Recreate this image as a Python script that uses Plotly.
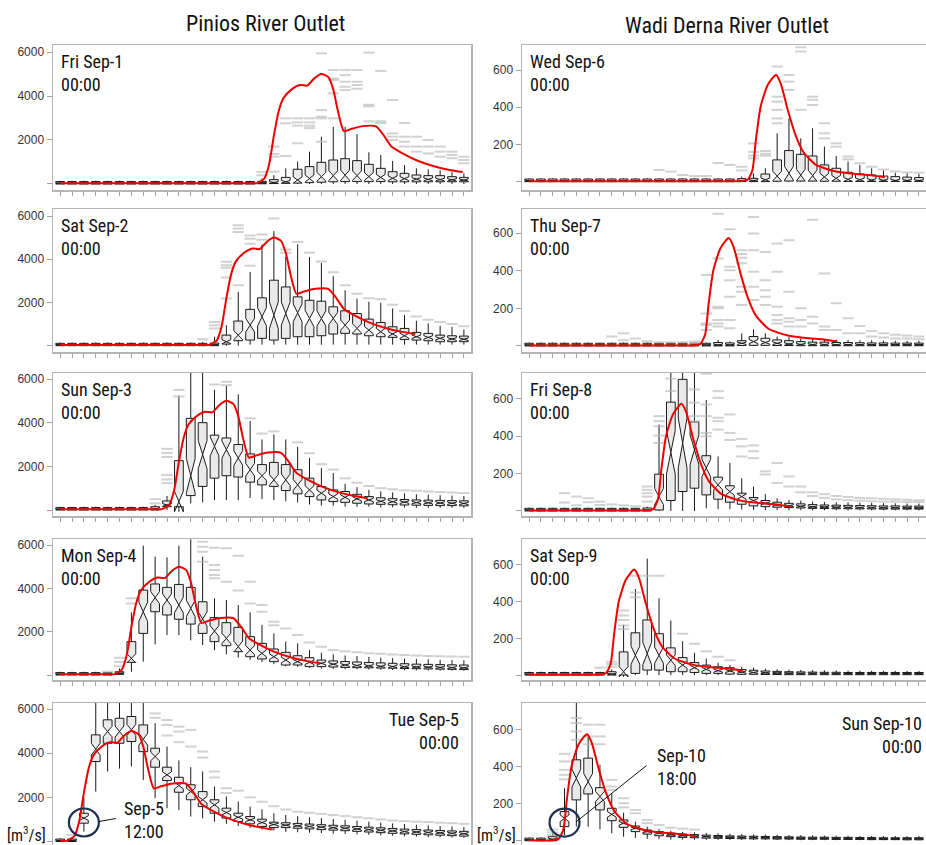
import math
import plotly.graph_objects as go

W, H = 926, 845
NARROW = "Liberation Sans Narrow, Arial Narrow, Roboto Condensed, sans-serif"
SANS = "Liberation Sans, Arial, sans-serif"
N_MEMBERS = 51

# ---------------- data ----------------
pinios_labels = ["Fri Sep-1", "Sat Sep-2", "Sun Sep-3", "Mon Sep-4", "Tue Sep-5"]
wadi_labels = ["Wed Sep-6", "Thu Sep-7", "Fri Sep-8", "Sat Sep-9", "Sun Sep-10"]

# observed hydrographs, time in 6-hourly steps from first panel start
pinios_obs_t = [0, 4, 8, 12, 16, 16.6, 17.2, 17.6, 18.0, 18.4, 18.8, 19.5, 20.2, 20.8, 21.4, 22.0,
                22.6, 23.0, 23.4, 23.9, 24.5, 25.5, 26.6, 27.2, 27.9, 28.8, 30.0, 31.4, 32.8, 33.9]
pinios_obs_q = [30, 30, 30, 30, 30, 40, 250, 900, 2200, 3300, 3900, 4300, 4500, 4470, 4800, 5000,
                4850, 4300, 3300, 2400, 2500, 2630, 2620, 2250, 1700, 1400, 1080, 820, 640, 540]
wadi_obs_t = [0, 4, 8, 12, 16, 18.0, 18.5, 18.9, 19.2, 19.6, 20.2, 20.9, 21.3, 21.9, 22.5, 23.2,
              24.3, 26.0, 27.7, 28.8, 30.1]
wadi_obs_q = [2, 2, 2, 2, 2, 3, 10, 60, 224, 403, 520, 574, 529, 385, 260, 161,
              90, 54, 41, 36, 24]

# Pinios ensemble box statistics (35 lead steps)
P1_lo = [0,0,0,0,0,0,0,0,0,0,0,0,0,0,0,0,0,0,0,0,0,0,0,0,0,0,0,0,0,0,0,0,0,0,0]
P1_q1 = [0,0,0,0,0,0,0,0,0,0,0,0,0,0,0,0,0,10,20,30,40,60,80,100,110,110,110,110,100,100,100,100,100,100,100]
P1_med = [30,30,30,30,30,30,30,30,30,30,30,30,30,30,30,30,30,40,70,100,180,250,330,380,400,380,340,300,260,240,220,210,200,190,180]
P1_q3 = [110,110,110,110,110,110,110,110,110,110,110,110,110,110,110,110,110,120,200,300,670,790,985,1090,1150,1060,895,712,560,485,410,380,380,333,300]
P1_hi = [150,150,150,150,150,150,150,150,150,150,150,150,150,150,150,150,150,250,400,710,1015,1470,2150,2600,2600,2270,1440,1320,1045,860,712,660,620,560,485]
P1_out = {17: [400, 550], 18: [1700, 1360, 1240, 560], 19: [2985, 2760, 1270], 20: [2985, 2800, 2650, 1850],
          21: [2985, 2800, 2650, 2540], 22: [5940, 3360, 3060, 2985, 1920], 23: [5180, 4800, 4730, 4120, 2985],
          24: [5180, 4950, 4650, 4420, 4270], 25: [5180, 4650, 4500, 4330], 26: [5970, 3600, 3530, 2850],
          27: [5140, 2850, 2770], 28: [3820, 2300, 2150, 2000], 29: [2770, 2150, 1920, 1700], 30: [2150, 1700, 1470],
          31: [2000, 1700, 1390], 32: [1700, 1470, 1240], 33: [1470, 1320, 1170], 34: [1240, 1090, 940]}

P2_lo = [0,0,0,0,0,0,0,0,0,0,0,0,0,0,0,0,50,50,50,50,50,50,50,50,50,50,50,50,50,50,50,50,50,50,50]
P2_q1 = [0,0,0,0,0,0,0,0,0,0,0,0,0,0,75,230,260,340,260,340,415,415,460,540,570,540,460,415,385,290,260,230,185,185,185]
P2_med = [30,30,30,30,30,30,30,30,30,30,30,30,30,40,185,490,950,1340,1415,1490,1520,1260,1260,1260,950,800,720,650,540,460,415,385,340,310,300]
P2_q3 = [110,110,110,110,110,110,110,110,110,110,110,110,110,120,490,1140,1680,2215,3030,2720,2260,2100,2060,1800,1615,1490,1230,1075,875,800,615,570,490,460,445]
P2_hi = [150,150,150,150,150,150,150,150,150,150,150,150,180,415,950,2490,3415,4675,5300,4100,4690,4100,3830,3215,2570,2180,2030,1985,1720,1415,1150,1030,920,875,750]
P2_out = {12: [300], 13: [1100, 950, 800], 14: [3880, 3720, 3610, 3150, 2180], 15: [5570, 5420, 5260, 2800],
          16: [5100, 4950, 4720, 3700], 17: [5150, 4900], 18: [5880], 19: [4450, 4300], 20: [4800], 21: [4300],
          22: [3900], 23: [3400], 24: [2800], 25: [2400], 26: [2200], 27: [2150], 28: [1900], 29: [1600],
          30: [1350], 31: [1200], 32: [1100], 33: [1000], 34: [900]}

P3_lo = [0,0,0,0,0,0,0,0,0,0,100,300,350,450,450,450,550,500,450,400,350,250,200,200,150,150,150,120,120,110,100,100,100,100,100]
P3_q1 = [0,0,0,0,0,0,0,0,0,150,150,660,1080,1460,1570,1510,1275,1150,1080,890,740,615,460,385,350,310,275,260,240,230,220,210,200,200,190]
P3_med = [30,30,30,30,30,30,30,30,60,230,385,1570,2540,2920,2770,2380,1845,1570,1380,1380,1150,920,770,615,580,510,460,400,380,360,340,330,320,310,300]
P3_q3 = [110,110,110,110,110,110,110,110,150,415,2260,4200,4000,3430,3300,3000,2570,2080,2180,2080,1845,1460,1075,920,845,720,615,560,520,480,460,450,440,430,420]
P3_hi = [150,150,150,150,150,150,150,150,230,645,5230,6500,6500,5500,5690,5300,4075,3230,3460,3230,2890,2380,1920,1690,1200,1045,920,850,800,760,720,700,680,660,640]
P3_out = {8: [500, 300], 9: [2800, 2615, 2430, 1600, 1400, 1230], 10: [5500, 5200], 13: [5750], 14: [5875, 5720],
          16: [4200], 17: [3500], 18: [3600], 20: [3100], 21: [2600], 22: [2100], 23: [1850], 24: [1450],
          25: [1250], 26: [1100], 27: [1000], 28: [950], 29: [900], 30: [880], 31: [850], 32: [820], 33: [800], 34: [780]}

P4_lo = [0,0,0,0,0,0,150,615,1415,1845,1845,1600,1380,1150,950,800,700,600,500,400,380,330,300,280,270,260,250,240,230,220,210,200,200,200,200]
P4_q1 = [0,0,0,0,0,30,585,1920,2920,2770,2570,2350,1920,1540,1350,1075,845,740,615,460,460,385,385,370,350,340,330,320,310,300,290,280,270,260,250]
P4_med = [30,30,30,30,30,80,770,2920,3570,3460,3230,3075,2585,2030,1690,1310,1150,1000,845,690,615,585,540,500,460,440,420,400,390,380,370,360,350,340,330]
P4_q3 = [110,110,110,110,110,150,1540,3920,4200,4045,4180,4045,3380,2650,2415,2200,1770,1460,1200,1045,890,800,690,650,620,600,580,560,540,520,500,490,480,470,460]
P4_hi = [150,150,150,150,150,300,2890,5970,5460,5430,5970,6500,5460,3540,3460,3230,2890,2310,1920,1540,1460,1150,1030,950,900,870,840,800,780,760,740,720,700,690,680]
P4_out = {4: [150], 5: [800, 600, 400], 6: [3540, 3300], 12: [6150, 5920, 5690, 5230], 13: [5875, 5075, 4845, 4615, 4460],
          14: [5845, 4300], 15: [5500, 3900], 16: [4300, 3300], 17: [3230, 2920], 18: [2460, 2300], 19: [2150],
          20: [1850], 21: [1500], 22: [1300], 23: [1150], 24: [1100], 25: [1050], 26: [1000], 27: [980], 28: [950],
          29: [920], 30: [900], 31: [880], 32: [860], 33: [850], 34: [840]}

P5_lo = [0,0,450,2260,3170,3300,3400,2790,1960,1510,1430,1130,1050,900,800,700,620,550,500,440,420,400,380,360,340,320,300,280,260,240,220,200,190,180,170]
P5_q1 = [0,0,830,3620,4450,4450,4530,4070,3365,2760,2230,1890,1580,1280,1060,905,800,680,630,630,600,570,540,515,490,460,430,400,370,345,325,305,285,265,245]
P5_med = [30,30,1060,4180,4980,4980,5055,4630,3850,3020,2535,2260,1890,1660,1310,1100,980,860,770,740,710,680,650,625,600,570,540,510,480,450,430,410,390,370,350]
P5_q3 = [110,110,1280,4830,5510,5580,5660,5280,4225,3365,2910,2570,2260,1890,1510,1280,1130,1010,875,850,820,790,760,735,710,680,650,620,590,560,540,520,500,480,460]
P5_hi = [150,180,2000,6500,6500,6500,6500,6500,5360,4300,3670,3365,3170,2490,2040,1810,1580,1460,1280,1200,1150,1100,1060,1020,980,940,900,860,820,790,760,730,700,680,660]
P5_out = {1: [300], 8: [5800, 5600], 9: [5500, 5280, 4800], 10: [5200, 4980, 4500], 11: [5055, 4300], 12: [4075, 3800],
          13: [3170, 2900], 14: [2410, 2200], 15: [2300], 16: [2000], 17: [1800], 18: [1600], 19: [1450], 20: [1350],
          21: [1300], 22: [1250], 23: [1200], 24: [1150], 25: [1100], 26: [1050], 27: [1000], 28: [950], 29: [920],
          30: [900], 31: [880], 32: [850], 33: [830], 34: [800]}

# Wadi Derna ensemble box statistics (34 lead steps visible)
W1_lo = [0,0,0,0,0,0,0,0,0,0,0,0,0,0,0,0,0,0,0,0,0,0,0,0,0,0,0,0,0,0,0,0,0,0]
W1_q1 = [0,0,0,0,0,0,0,0,0,0,0,0,0,0,0,0,0,0,0,0,0,2,3,3,3,2,2,1,1,1,1,1,1,1]
W1_med = [4,4,4,4,4,4,4,4,4,4,4,4,4,4,4,4,4,4,5,6,10,30,45,35,32,25,18,12,10,8,7,6,6,5]
W1_q3 = [14,14,14,14,14,14,14,14,14,14,14,14,14,14,14,14,14,14,16,18,41,117,167,147,138,90,72,50,41,36,30,27,24,22]
W1_hi = [18,18,18,18,18,18,18,18,18,18,18,18,18,18,18,18,18,18,27,45,72,260,341,233,287,188,138,108,90,72,60,48,45,41]
W1_out = {11: [63], 12: [54], 13: [36], 14: [30], 15: [30], 16: [100], 17: [90], 18: [80, 60],
          19: [206, 160, 140, 125], 20: [165, 150, 140], 21: [619, 457, 430, 386, 340, 314], 22: [574, 538, 493],
          23: [723, 700, 386], 24: [457, 440, 412], 25: [314, 260, 233], 26: [206, 188], 27: [135, 120], 28: [99],
          29: [80], 30: [65], 31: [55], 32: [50], 33: [48]}

W2_lo = [0,0,0,0,0,0,0,0,0,0,0,0,0,0,0,0,0,0,0,0,0,0,0,0,0,0,0,0,0,0,0,0,0,0]
W2_q1 = [0,0,0,0,0,0,0,0,0,0,0,0,0,0,0,0,0,0,2,3,3,2,2,1,1,1,1,1,1,1,1,1,1,1]
W2_med = [4,4,4,4,4,4,4,4,4,4,4,4,4,4,4,4,5,5,14,23,18,14,10,8,7,7,6,6,6,5,5,5,5,5]
W2_q3 = [14,14,14,14,14,14,14,14,14,14,14,14,14,14,14,14,18,16,28,50,41,32,28,23,20,20,18,18,17,16,16,15,15,15]
W2_hi = [18,18,18,18,18,18,18,18,18,18,18,18,18,18,18,18,32,23,67,88,67,50,46,40,36,35,33,32,30,30,28,28,27,27]
W2_out = {7: [50], 8: [67, 30], 9: [40], 10: [25], 11: [20], 12: [20], 13: [20], 14: [23, 15],
          15: [377, 173, 120, 111, 85], 16: [704, 465, 209, 200, 138, 120, 103], 17: [621, 421, 403, 350, 262, 138, 94],
          18: [510, 490, 470, 440, 315, 288, 218], 19: [687, 598, 510, 395, 315, 244], 20: [500, 350, 297, 262, 218],
          21: [545, 395, 209, 165, 138, 120], 22: [563, 288, 147, 129, 103], 23: [200, 138, 103], 24: [672, 155, 120],
          25: [386, 103, 85], 26: [227, 85], 27: [147, 67], 28: [106, 67], 29: [80, 50], 30: [67, 45],
          31: [60, 40], 32: [55, 40], 33: [50, 35]}

W3_lo = [0,0,0,0,0,0,0,0,0,0,0,0,0,0,0,14,10,10,8,6,5,5,4,4,3,3,3,3,3,3,3,3,3,3]
W3_q1 = [0,0,0,0,0,0,0,0,0,0,0,5,56,104,122,86,63,47,36,27,23,20,18,16,14,13,12,12,11,11,10,10,10,10]
W3_med = [4,4,4,4,4,4,4,4,4,4,5,77,314,364,328,230,140,104,77,56,41,32,28,25,22,21,20,19,18,18,17,17,16,16]
W3_q3 = [14,14,14,14,14,14,14,14,14,14,16,197,583,705,477,296,181,135,95,72,56,47,41,38,34,32,31,30,29,28,27,27,26,26]
W3_hi = [18,18,18,18,18,18,18,18,18,18,23,463,780,780,780,594,292,257,176,131,90,68,59,55,50,48,47,46,45,44,42,41,40,40]
W3_out = {3: [95, 45], 4: [77, 30], 5: [68, 47], 6: [50, 32], 7: [35], 8: [30], 9: [25],
          10: [131, 113, 95, 77, 50], 11: [508, 481, 454, 404, 364], 12: [709, 642], 14: [651, 580, 508, 481],
          15: [735, 570, 508, 418, 400], 16: [642, 606, 499, 481, 436], 17: [517, 418, 380], 18: [386, 346, 292],
          19: [351, 320, 283], 20: [212, 195], 21: [257, 150], 22: [185, 131], 23: [131, 100], 24: [100, 80],
          25: [90, 70], 26: [80, 62], 27: [75, 58], 28: [70, 55], 29: [68, 52], 30: [65, 50], 31: [62, 50],
          32: [60, 48], 33: [58, 48]}

W4_lo = [0,0,0,0,0,0,0,0,0,0,0,0,0,0,0,0,0,0,0,0,0,0,0,0,0,0,0,0,0,0,0,0,0,0]
W4_q1 = [0,0,0,0,0,0,0,0,0,9,27,27,18,18,14,9,9,5,4,4,3,3,2,2,2,2,2,2,2,2,2,2,2,2]
W4_med = [4,4,4,4,4,4,4,5,18,108,117,108,81,54,40,31,24,22,16,14,12,11,10,9,9,8,8,8,7,7,7,7,7,7]
W4_q3 = [14,14,14,14,14,14,14,18,126,230,300,225,148,95,68,54,45,40,30,26,22,20,18,17,16,15,15,14,14,14,14,14,14,14]
W4_hi = [18,18,18,18,18,18,18,30,274,468,634,418,297,184,121,90,67,54,45,40,35,32,30,28,27,26,25,24,24,23,23,22,22,22]
W4_out = {6: [40], 7: [72, 60, 45], 8: [351, 324, 300, 270, 250], 9: [540, 450, 423], 10: [540], 11: [540],
          13: [225], 14: [170], 15: [130], 16: [100], 17: [80]}

W5_lo = [0,0,0,31,76,76,61,40,22,15,10,8,6,6,5,5,5,4,4,4,4,4,3,3,3,3,3,3,3,3,3,3,3,3]
W5_q1 = [0,0,0,76,220,252,166,108,72,49,36,27,22,18,16,14,13,12,11,10,10,9,9,8,8,8,7,7,7,6,6,6,5,5]
W5_med = [4,4,8,121,337,319,238,142,94,67,49,40,32,27,24,22,20,19,18,17,16,15,14,14,13,13,12,12,11,11,10,10,10,10]
W5_q3 = [14,14,22,157,436,445,286,175,112,79,58,49,41,36,33,30,28,26,25,24,23,22,21,20,19,19,18,18,17,17,16,16,16,16]
W5_hi = [18,18,40,283,780,562,409,252,151,103,76,63,54,48,45,42,40,38,36,34,33,32,31,30,29,28,27,27,26,26,25,25,25,25]
W5_out = {2: [60, 45, 30], 3: [468, 427, 382, 355, 331], 4: [661, 634, 589, 544], 5: [625, 562, 520],
          6: [625, 562, 520], 7: [328, 292, 274], 8: [229, 202, 180], 9: [166, 148], 10: [112, 95], 11: [85],
          12: [70], 13: [65], 14: [60]}

# highlighted forecast boxes (row 5): (lead step, value at circle centre)
P_highlight = (2, 860)
W_highlight = (3, 98)

# ---------------- layout geometry ----------------
def px_x(p):
    return p / W

def px_y(p):
    return 1 - p / H

LEFT_X = [px_x(53), px_x(471)]
RIGHT_X = [px_x(522), 1.0]
ROWS_PX = [(45, 190), (209, 352.3), (373, 516), (539.3, 680), (703, 845)]
LEFT_YR = [[-273, 6318], [-305, 6324], [-275, 6275], [-231, 6263], [-158, 6272]]
RIGHT_YR = [[-45, 735], [-34, 729], [-27, 739], [-27, 739], [-23, 742]]

panels = [
    (P1_lo, P1_q1, P1_med, P1_q3, P1_hi, P1_out),
    (P2_lo, P2_q1, P2_med, P2_q3, P2_hi, P2_out),
    (P3_lo, P3_q1, P3_med, P3_q3, P3_hi, P3_out),
    (P4_lo, P4_q1, P4_med, P4_q3, P4_hi, P4_out),
    (P5_lo, P5_q1, P5_med, P5_q3, P5_hi, P5_out),
    (W1_lo, W1_q1, W1_med, W1_q3, W1_hi, W1_out),
    (W2_lo, W2_q1, W2_med, W2_q3, W2_hi, W2_out),
    (W3_lo, W3_q1, W3_med, W3_q3, W3_hi, W3_out),
    (W4_lo, W4_q1, W4_med, W4_q3, W4_hi, W4_out),
    (W5_lo, W5_q1, W5_med, W5_q3, W5_hi, W5_out),
]

fig = go.Figure()
layout_axes = {}
annotations = []

BORDER = "#b5b5b5"
TICKC = "#a0a0a0"

for p, (lo, q1, med, q3, hi, out) in enumerate(panels):
    n = p + 1
    col = p // 5
    row = p % 5
    xs = list(range(len(med)))
    xa = "x" if n == 1 else f"x{n}"
    ya = "y" if n == 1 else f"y{n}"
    notch = [1.58 * (b - a) / math.sqrt(N_MEMBERS) for a, b in zip(q1, q3)]

    ox, oy = [], []
    for k, vals in out.items():
        for v in vals:
            ox.append(k)
            oy.append(v)
    fig.add_trace(go.Scatter(
        x=ox, y=oy, mode="markers", xaxis=xa, yaxis=ya, hoverinfo="skip",
        marker=dict(symbol="line-ew", size=8, color="rgba(185,185,185,0.65)",
                    line=dict(width=2, color="rgba(185,185,185,0.65)"))))

    fig.add_trace(go.Box(
        x=xs, q1=q1, median=med, q3=q3, lowerfence=lo, upperfence=hi,
        notched=True, notchspan=notch, notchwidth=0.5, width=0.74, whiskerwidth=0,
        orientation="v", boxpoints=False, xaxis=xa, yaxis=ya,
        fillcolor="rgba(215,215,215,0.55)", line=dict(color="#1a1a1a", width=1)))

    obs_t = pinios_obs_t if col == 0 else wadi_obs_t
    obs_q = pinios_obs_q if col == 0 else wadi_obs_q
    offset = 4 * row
    rx = [t - offset for t in obs_t if t >= offset]
    ry = [q for t, q in zip(obs_t, obs_q) if t >= offset]
    fig.add_trace(go.Scatter(
        x=rx, y=ry, mode="lines", xaxis=xa, yaxis=ya, hoverinfo="skip",
        line=dict(color="#ee0000", width=2, shape="spline", smoothing=0.6)))

    top_px, bot_px = ROWS_PX[row]
    ydom = [max(0.0, px_y(bot_px)), px_y(top_px)]
    xdom = LEFT_X if col == 0 else RIGHT_X
    xrange = [-0.6, 34.6] if col == 0 else [-0.6, 33.6]
    yrange = LEFT_YR[row] if col == 0 else RIGHT_YR[row]
    if col == 0:
        tv = [2000, 4000, 6000]
    else:
        tv = [200, 400, 600]

    last = row == 4
    xaxis = dict(domain=xdom, range=xrange, anchor=ya, showgrid=False, zeroline=False,
                 tickvals=xs, showticklabels=False,
                 ticks="" if last else "outside", ticklen=4, tickcolor=TICKC,
                 showline=True, linecolor=BORDER, linewidth=1.5,
                 mirror=False if last else True, side="top" if last else "bottom",
                 fixedrange=True)
    yaxis = dict(domain=ydom, range=yrange, anchor=xa, showgrid=False, zeroline=False,
                 tickvals=tv, ticktext=[str(v) for v in tv], ticks="outside", ticklen=5, tickcolor=TICKC,
                 minor=dict(tickvals=[0], ticks="outside", ticklen=5, tickcolor=TICKC, showgrid=False),
                 tickfont=dict(family=SANS, size=12, color="#333333"),
                 showline=True, linecolor=BORDER, linewidth=1.5,
                 mirror=(col == 0), fixedrange=True)
    key = "" if n == 1 else str(n)
    layout_axes["xaxis" + key] = xaxis
    layout_axes["yaxis" + key] = yaxis

    label = (pinios_labels if col == 0 else wadi_labels)[row]
    if not last:
        annotations.append(dict(
            x=0, y=1, xref=f"{xa} domain", yref=f"{ya} domain", xanchor="left", yanchor="top",
            xshift=6, yshift=-4, align="left", showarrow=False,
            text=f"{label}<br>00:00", font=dict(family=NARROW, size=18, color="#111111")))
    else:
        annotations.append(dict(
            x=1, y=1, xref=f"{xa} domain", yref=f"{ya} domain", xanchor="right", yanchor="top",
            xshift=-10 if col == 0 else -2, yshift=-4 if col == 0 else -8, align="right", showarrow=False,
            text=f"{label}<br>00:00", font=dict(family=NARROW, size=18, color="#111111")))

fig.update_layout(**layout_axes)

# column titles
annotations.append(dict(x=px_x(265), y=px_y(24), xref="paper", yref="paper", showarrow=False,
                        text="Pinios River Outlet", font=dict(family=NARROW, size=22, color="#111111"),
                        xanchor="center", yanchor="middle"))
annotations.append(dict(x=px_x(727), y=px_y(25), xref="paper", yref="paper", showarrow=False,
                        text="Wadi Derna River Outlet", font=dict(family=NARROW, size=22, color="#111111"),
                        xanchor="center", yanchor="middle"))

# unit labels
for xr in (48, 518):
    annotations.append(dict(x=px_x(xr), y=px_y(834), xref="paper", yref="paper", showarrow=False,
                            text="[m<sup>3</sup>/s]", font=dict(family=NARROW, size=16, color="#111111"),
                            xanchor="right", yanchor="middle"))

# highlighted boxes with call-outs
shapes = []
CIRC = "#1c3050"
for (hx, hy), xa, ya, line_pts, txt, txt_shift in [
    (P_highlight, "x5", "y5", (15, 1, 32, 4), "Sep-5<br>12:00", (38, 3)),
    (W_highlight, "x10", "y10", (12, 1, 82, 57), "Sep-10<br>18:00", (90, 56)),
]:
    shapes.append(dict(type="circle", xref=xa, yref=ya, xsizemode="pixel", ysizemode="pixel",
                       xanchor=hx, yanchor=hy, x0=-15, x1=15, y0=-14, y1=14,
                       line=dict(color=CIRC, width=2.2)))
    shapes.append(dict(type="line", xref=xa, yref=ya, xsizemode="pixel", ysizemode="pixel",
                       xanchor=hx, yanchor=hy, x0=line_pts[0], y0=line_pts[1], x1=line_pts[2], y1=line_pts[3],
                       line=dict(color="#111111", width=1)))
    annotations.append(dict(x=hx, y=hy, xref=xa, yref=ya, xanchor="left", yanchor="middle",
                            xshift=txt_shift[0], yshift=txt_shift[1], showarrow=False, align="left",
                            text=txt, font=dict(family=NARROW, size=18, color="#111111")))

fig.update_layout(
    width=W, height=H, margin=dict(l=0, r=0, t=0, b=0),
    paper_bgcolor="white", plot_bgcolor="white",
    showlegend=False, hovermode=False,
    annotations=annotations, shapes=shapes,
)

fig.write_html("out.html", config={"displayModeBar": False, "staticPlot": True},
               post_script="document.body.style.margin='0px';document.body.style.overflow='hidden';")
